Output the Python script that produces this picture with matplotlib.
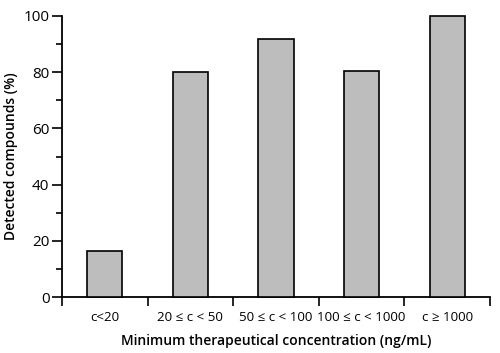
import numpy as np
import matplotlib
matplotlib.use("Agg")
import matplotlib.pyplot as plt
from matplotlib.ticker import MultipleLocator, FixedLocator, NullFormatter

plt.rcParams['font.family'] = ['Open Sans', 'DejaVu Sans']

# data
categories = ['c<20', '20 \u2264 c < 50', '50 \u2264 c < 100', '100 \u2264 c < 1000', 'c \u2265 1000']
detected = [16.5, 80, 91.7, 80.3, 100]

fig = plt.figure(figsize=(5, 3.53), dpi=100)
ax = fig.add_axes([0.124, 0.1586, 0.856, 0.7961])

x = np.arange(len(categories))
ax.bar(x, detected, width=0.41, color='#bdbdbd', edgecolor='black',
       linewidth=1.2, clip_on=False, zorder=3)

ax.set_xlim(-0.5, len(categories) - 0.5)
ax.set_ylim(0, 100)

for side in ['top', 'right']:
    ax.spines[side].set_visible(False)
for side in ['left', 'bottom']:
    ax.spines[side].set_linewidth(1.3)

# y ticks: major every 20, minor every 10
ax.yaxis.set_major_locator(MultipleLocator(20))
ax.yaxis.set_minor_locator(MultipleLocator(10))
ax.tick_params(axis='y', which='major', length=7, width=1.2, labelsize=11, pad=2)
ax.tick_params(axis='y', which='minor', length=4, width=1.2)

# x: ticks at category boundaries, labels at centres
ax.xaxis.set_major_locator(FixedLocator(np.arange(-0.5, len(categories), 1.0)))
ax.xaxis.set_major_formatter(NullFormatter())
ax.xaxis.set_minor_locator(FixedLocator(x))
ax.set_xticks(x, categories, minor=True)
ax.tick_params(axis='x', which='major', length=6.5, width=1.2)
ax.tick_params(axis='x', which='minor', length=0, labelsize=9.6, pad=10)

ax.set_ylabel('Detected compounds (%)', fontsize=10, fontweight='semibold', labelpad=4)
ax.set_xlabel('Minimum therapeutical concentration (ng/mL)', fontsize=10,
              fontweight='semibold', labelpad=7)

plt.savefig('out.png', dpi=100)
